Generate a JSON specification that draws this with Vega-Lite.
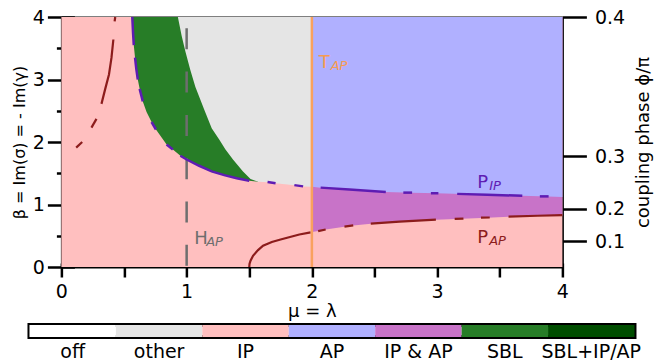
{
  "$schema": "https://vega.github.io/schema/vega-lite/v6.json",
  "padding": {"left": 11, "top": 8, "right": 0, "bottom": 0},
  "spacing": 3,
  "center": true,
  "resolve": {"scale": {"color": "independent"}},
  "datasets": {
    "bg": [{"x0": 0, "x1": 4, "y0": 0, "y1": 4}],
    "green": [
      {"mu": 0.566, "beta": 4.0}, {"mu": 0.572, "beta": 3.75}, {"mu": 0.578, "beta": 3.55},
      {"mu": 0.588, "beta": 3.35}, {"mu": 0.598, "beta": 3.17}, {"mu": 0.61, "beta": 3.0},
      {"mu": 0.625, "beta": 2.85}, {"mu": 0.65, "beta": 2.65}, {"mu": 0.68, "beta": 2.48},
      {"mu": 0.72, "beta": 2.32}, {"mu": 0.755, "beta": 2.2}, {"mu": 0.84, "beta": 1.96},
      {"mu": 0.89, "beta": 1.88}, {"mu": 0.95, "beta": 1.78}, {"mu": 1.0, "beta": 1.72},
      {"mu": 1.1, "beta": 1.62}, {"mu": 1.2, "beta": 1.53}, {"mu": 1.3, "beta": 1.47},
      {"mu": 1.4, "beta": 1.42}, {"mu": 1.5, "beta": 1.38}, {"mu": 1.57, "beta": 1.365}
    ],
    "gray": [
      {"mu": 0.93, "beta": 4.0}, {"mu": 0.96, "beta": 3.7}, {"mu": 0.99, "beta": 3.45},
      {"mu": 1.03, "beta": 3.15}, {"mu": 1.07, "beta": 2.88}, {"mu": 1.14, "beta": 2.52},
      {"mu": 1.2, "beta": 2.22}, {"mu": 1.26, "beta": 2.04}, {"mu": 1.31, "beta": 1.88},
      {"mu": 1.37, "beta": 1.72}, {"mu": 1.45, "beta": 1.53}, {"mu": 1.51, "beta": 1.41},
      {"mu": 1.57, "beta": 1.365}, {"mu": 1.65, "beta": 1.355}, {"mu": 1.71, "beta": 1.34},
      {"mu": 1.86, "beta": 1.31}, {"mu": 1.93, "beta": 1.29}, {"mu": 2.0, "beta": 1.285}
    ],
    "ipap": [
      {"mu": 2.0, "beta": 0.56}, {"mu": 2.05, "beta": 0.575}, {"mu": 2.11, "beta": 0.6},
      {"mu": 2.26, "beta": 0.645}, {"mu": 2.33, "beta": 0.666}, {"mu": 2.47, "beta": 0.693},
      {"mu": 2.7, "beta": 0.725}, {"mu": 2.99, "beta": 0.757}, {"mu": 3.2, "beta": 0.773},
      {"mu": 3.4, "beta": 0.79}, {"mu": 3.57, "beta": 0.805}, {"mu": 3.8, "beta": 0.82},
      {"mu": 4.0, "beta": 0.83}
    ],
    "ap": [
      {"mu": 2.0, "beta": 1.285}, {"mu": 2.07, "beta": 1.27}, {"mu": 2.3, "beta": 1.24},
      {"mu": 2.59, "beta": 1.2}, {"mu": 2.8, "beta": 1.19}, {"mu": 3.0, "beta": 1.18},
      {"mu": 3.4, "beta": 1.155}, {"mu": 3.68, "beta": 1.14}, {"mu": 3.89, "beta": 1.13},
      {"mu": 4.0, "beta": 1.12}
    ],
    "pip": [
      {"seg": "a", "mu": 0.566, "beta": 4.0}, {"seg": "a", "mu": 0.572, "beta": 3.75}, {"seg": "a", "mu": 0.578, "beta": 3.55},
      {"seg": "b", "mu": 0.588, "beta": 3.35}, {"seg": "b", "mu": 0.598, "beta": 3.17}, {"seg": "b", "mu": 0.61, "beta": 3.0},
      {"seg": "c", "mu": 0.625, "beta": 2.85}, {"seg": "c", "mu": 0.65, "beta": 2.65},
      {"seg": "d", "mu": 0.72, "beta": 2.32}, {"seg": "d", "mu": 0.755, "beta": 2.2},
      {"seg": "e", "mu": 0.84, "beta": 1.96}, {"seg": "e", "mu": 0.89, "beta": 1.88},
      {"seg": "f", "mu": 0.95, "beta": 1.78}, {"seg": "f", "mu": 1.0, "beta": 1.72}, {"seg": "f", "mu": 1.1, "beta": 1.62},
      {"seg": "f", "mu": 1.2, "beta": 1.53}, {"seg": "f", "mu": 1.3, "beta": 1.47}, {"seg": "f", "mu": 1.4, "beta": 1.42},
      {"seg": "f", "mu": 1.5, "beta": 1.38},
      {"seg": "g", "mu": 1.646, "beta": 1.36}, {"seg": "g", "mu": 1.71, "beta": 1.34},
      {"seg": "h", "mu": 1.86, "beta": 1.31}, {"seg": "h", "mu": 1.93, "beta": 1.29},
      {"seg": "i", "mu": 2.07, "beta": 1.27}, {"seg": "i", "mu": 2.3, "beta": 1.24}, {"seg": "i", "mu": 2.59, "beta": 1.2},
      {"seg": "j", "mu": 2.73, "beta": 1.19}, {"seg": "j", "mu": 2.8, "beta": 1.19},
      {"seg": "k", "mu": 2.95, "beta": 1.18}, {"seg": "k", "mu": 3.01, "beta": 1.18},
      {"seg": "l", "mu": 3.16, "beta": 1.17}, {"seg": "l", "mu": 3.4, "beta": 1.155}, {"seg": "l", "mu": 3.68, "beta": 1.14},
      {"seg": "m", "mu": 3.82, "beta": 1.13}, {"seg": "m", "mu": 3.89, "beta": 1.13}
    ],
    "pap": [
      {"seg": "l1", "mu": 0.118, "beta": 1.91}, {"seg": "l1", "mu": 0.166, "beta": 2.0},
      {"seg": "l2", "mu": 0.24, "beta": 2.23}, {"seg": "l2", "mu": 0.28, "beta": 2.37},
      {"seg": "l3", "mu": 0.32, "beta": 2.61}, {"seg": "l3", "mu": 0.35, "beta": 2.85}, {"seg": "l3", "mu": 0.38, "beta": 3.08},
      {"seg": "l3", "mu": 0.4, "beta": 3.35}, {"seg": "l3", "mu": 0.415, "beta": 3.64},
      {"seg": "l4", "mu": 0.425, "beta": 3.93}, {"seg": "l4", "mu": 0.43, "beta": 4.0},
      {"seg": "lo", "mu": 1.5, "beta": 0.0}, {"seg": "lo", "mu": 1.502, "beta": 0.05}, {"seg": "lo", "mu": 1.51, "beta": 0.1},
      {"seg": "lo", "mu": 1.53, "beta": 0.18}, {"seg": "lo", "mu": 1.57, "beta": 0.27}, {"seg": "lo", "mu": 1.61, "beta": 0.34},
      {"seg": "lo", "mu": 1.68, "beta": 0.4}, {"seg": "lo", "mu": 1.75, "beta": 0.44}, {"seg": "lo", "mu": 1.9, "beta": 0.52},
      {"seg": "lo", "mu": 1.99, "beta": 0.555},
      {"seg": "r1", "mu": 2.05, "beta": 0.575}, {"seg": "r1", "mu": 2.11, "beta": 0.6},
      {"seg": "r2", "mu": 2.26, "beta": 0.645}, {"seg": "r2", "mu": 2.33, "beta": 0.666},
      {"seg": "r3", "mu": 2.47, "beta": 0.693}, {"seg": "r3", "mu": 2.7, "beta": 0.725}, {"seg": "r3", "mu": 2.99, "beta": 0.757},
      {"seg": "r4", "mu": 3.14, "beta": 0.77}, {"seg": "r4", "mu": 3.21, "beta": 0.775},
      {"seg": "r5", "mu": 3.35, "beta": 0.79}, {"seg": "r5", "mu": 3.42, "beta": 0.792},
      {"seg": "r6", "mu": 3.57, "beta": 0.805}, {"seg": "r6", "mu": 3.8, "beta": 0.82}, {"seg": "r6", "mu": 4.0, "beta": 0.83}
    ],
    "labels": [
      {"name": "T", "main": "T", "sub": "AP", "mu": 2.054, "beta": 3.185},
      {"name": "H", "main": "H", "sub": "AP", "mu": 1.06, "beta": 0.363},
      {"name": "PIP", "main": "P", "sub": "IP", "mu": 3.32, "beta": 1.27},
      {"name": "PAP", "main": "P", "sub": "AP", "mu": 3.32, "beta": 0.379}
    ],
    "bar": [
      {"cat": "off"}, {"cat": "other"}, {"cat": "IP"}, {"cat": "AP"},
      {"cat": "IP & AP"}, {"cat": "SBL"}, {"cat": "SBL+IP/AP"}
    ]
  },
  "vconcat": [
    {
      "width": 501,
      "height": 250,
      "view": {"stroke": null},
      "resolve": {"axis": {"x": "independent", "y": "independent"}},
      "layer": [
        {
          "data": {"name": "bg"},
          "mark": {"type": "rect", "color": "#ffbfbf"},
          "encoding": {
            "x": {"field": "x0", "type": "quantitative", "scale": {"domain": [0, 4], "nice": false},
                  "axis": {"orient": "bottom", "values": [0, 1, 2, 3, 4], "offset": -4, "tickSize": 14, "domain": false, "labelPadding": 5, "title": "μ = λ", "titlePadding": 1, "format": "d"}},
            "x2": {"field": "x1"},
            "y": {"field": "y0", "type": "quantitative", "scale": {"domain": [0, 4], "nice": false},
                  "axis": {"orient": "left", "values": [0, 1, 2, 3, 4], "offset": -13, "tickSize": 27, "domain": false, "labelPadding": 3, "title": "β = Im(σ) = - Im(γ)", "titleFontSize": 16, "titlePadding": 5, "format": "d"}},
            "y2": {"field": "y1"}
          }
        },
        {
          "data": {"name": "green"},
          "mark": {"type": "area", "color": "#277d27"},
          "encoding": {
            "x": {"field": "mu", "type": "quantitative",
                  "axis": {"orient": "bottom", "values": [0.5, 1.5, 2.5, 3.5], "tickSize": 10, "domain": false, "labels": false, "title": null}},
            "y": {"field": "beta", "type": "quantitative",
                  "axis": {"orient": "left", "values": [0.5, 1.5, 2.5, 3.5], "offset": -5, "tickSize": 10, "domain": false, "labels": false, "title": null}},
            "y2": {"datum": 4}
          }
        },
        {
          "data": {"name": "gray"},
          "mark": {"type": "area", "color": "#e5e5e5"},
          "encoding": {
            "x": {"field": "mu", "type": "quantitative",
                  "axis": {"orient": "bottom", "ticks": false, "labels": false, "title": null, "domain": true}},
            "y": {"field": "beta", "type": "quantitative",
                  "axis": {"orient": "left", "ticks": false, "labels": false, "title": null, "domain": true}},
            "y2": {"datum": 4}
          }
        },
        {
          "data": {"name": "ipap"},
          "mark": {"type": "area", "color": "#c873c8"},
          "encoding": {
            "x": {"field": "mu", "type": "quantitative",
                  "axis": {"orient": "top", "ticks": false, "labels": false, "title": null, "domain": true}},
            "y": {"field": "beta", "type": "quantitative",
                  "axis": {"orient": "right", "values": [0.415, 0.933, 1.773, 4], "labelExpr": "datum.value > 3 ? '0.4' : datum.value > 1.5 ? '0.3' : datum.value > 0.7 ? '0.2' : '0.1'", "tickSize": 24, "labelPadding": 8, "title": "coupling phase ϕ/π", "titleAngle": 270, "titleBaseline": "top", "titlePadding": 10, "domain": true}},
            "y2": {"datum": 4}
          }
        },
        {
          "data": {"name": "ap"},
          "mark": {"type": "area", "color": "#b0b0ff"},
          "encoding": {
            "x": {"field": "mu", "type": "quantitative", "axis": null},
            "y": {"field": "beta", "type": "quantitative", "axis": null},
            "y2": {"datum": 4}
          }
        },
        {
          "data": {"values": [{"mu": 1}]},
          "mark": {"type": "rule", "color": "#6e6e6e", "strokeWidth": 2.5, "strokeDash": [21, 22.3], "strokeDashOffset": 32},
          "encoding": {"x": {"field": "mu", "type": "quantitative", "axis": null}}
        },
        {
          "data": {"name": "pip"},
          "mark": {"type": "line", "color": "#5e1cb3", "strokeWidth": 2.5},
          "encoding": {
            "x": {"field": "mu", "type": "quantitative", "axis": null},
            "y": {"field": "beta", "type": "quantitative", "axis": null},
            "detail": {"field": "seg", "type": "nominal"}
          }
        },
        {
          "data": {"name": "pap"},
          "mark": {"type": "line", "color": "#8c1c1c", "strokeWidth": 2.2},
          "encoding": {
            "x": {"field": "mu", "type": "quantitative", "axis": null},
            "y": {"field": "beta", "type": "quantitative", "axis": null},
            "detail": {"field": "seg", "type": "nominal"}
          }
        },
        {
          "data": {"values": [{"mu": 2}]},
          "mark": {"type": "rule", "color": "#f9a15e", "strokeWidth": 2.5},
          "encoding": {"x": {"field": "mu", "type": "quantitative", "axis": null}}
        },
        {
          "data": {"name": "labels"},
          "mark": {"type": "text", "align": "left", "baseline": "alphabetic", "fontSize": 18, "font": "DejaVu Sans"},
          "encoding": {
            "x": {"field": "mu", "type": "quantitative", "axis": null},
            "y": {"field": "beta", "type": "quantitative", "axis": null},
            "text": {"field": "main"},
            "color": {"field": "name", "type": "nominal", "scale": {"domain": ["T", "H", "PIP", "PAP"], "range": ["#f59b52", "#6e6e6e", "#5e1cb3", "#8c1c1c"]}, "legend": null}
          }
        },
        {
          "data": {"name": "labels"},
          "mark": {"type": "text", "align": "left", "baseline": "alphabetic", "fontSize": 13, "fontStyle": "italic", "font": "DejaVu Sans", "dx": 12, "dy": 2},
          "encoding": {
            "x": {"field": "mu", "type": "quantitative", "axis": null},
            "y": {"field": "beta", "type": "quantitative", "axis": null},
            "text": {"field": "sub"},
            "color": {"field": "name", "type": "nominal", "scale": {"domain": ["T", "H", "PIP", "PAP"], "range": ["#f59b52", "#6e6e6e", "#5e1cb3", "#8c1c1c"]}, "legend": null}
          }
        }
      ]
    },
    {
      "width": 605,
      "height": 12,
      "view": {"stroke": "black", "strokeWidth": 4},
      "title": {"text": " ", "orient": "right", "fontSize": 12, "offset": 29},
      "data": {"name": "bar"},
      "mark": {"type": "rect"},
      "encoding": {
        "x": {"field": "cat", "type": "nominal", "sort": null, "scale": {"paddingInner": 0, "paddingOuter": 0},
              "axis": {"title": null, "labelAngle": 0, "ticks": false, "domain": false, "labelPadding": 5, "zindex": 0}},
        "color": {"field": "cat", "type": "nominal", "sort": null,
                  "scale": {"domain": ["off", "other", "IP", "AP", "IP & AP", "SBL", "SBL+IP/AP"], "range": ["#ffffff", "#e5e5e5", "#ffbfbf", "#b0b0ff", "#c873c8", "#277d27", "#004d00"]},
                  "legend": null}
      }
    }
  ],
  "config": {
    "font": "DejaVu Sans",
    "axis": {
      "grid": false, "zindex": 1, "labelFlush": false,
      "labelFont": "DejaVu Sans", "titleFont": "DejaVu Sans",
      "labelFontSize": 19, "titleFontSize": 18,
      "labelColor": "black", "titleColor": "black", "titleFontWeight": "normal",
      "domainColor": "black", "tickColor": "black", "domainWidth": 2, "tickWidth": 2.5
    }
  }
}
